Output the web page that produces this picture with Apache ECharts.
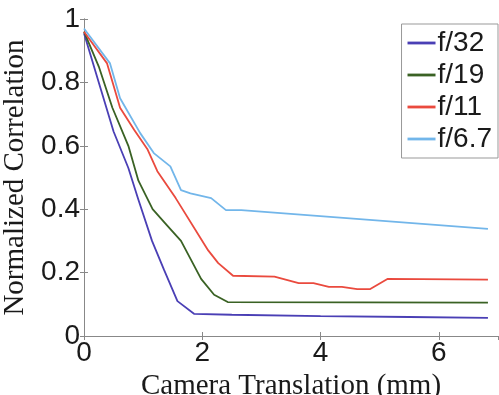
<!DOCTYPE html>
<html>
<head>
<meta charset="utf-8">
<script src="https://cdn.jsdelivr.net/npm/echarts@6/dist/echarts.min.js"></script>
<style>html,body{margin:0;padding:0;background:#fff;}#c{width:499px;height:395px;}</style>
</head>
<body>
<div id="c"></div>
<script>
const seriesNames = ['f/32', 'f/19', 'f/11', 'f/6.7'];
const f32X = [0, 0.25, 0.5, 0.75, 0.92, 1.15, 1.35, 1.58, 1.86, 2.5, 4, 5.5, 6.83];
const f32Y = [0.955, 0.80, 0.645, 0.53, 0.43, 0.30, 0.21, 0.11, 0.07, 0.067, 0.063, 0.06, 0.057];
const f19X = [0, 0.25, 0.48, 0.75, 0.92, 1.16, 1.4, 1.64, 1.98, 2.2, 2.43, 6.83];
const f19Y = [0.96, 0.85, 0.72, 0.6, 0.49, 0.40, 0.35, 0.30, 0.18, 0.13, 0.107, 0.105];
const f11X = [0, 0.39, 0.61, 0.85, 1.07, 1.24, 1.55, 2.1, 2.27, 2.52, 3.22, 3.63, 3.88, 4.14, 4.36, 4.62, 4.84, 5.13, 6.83];
const f11Y = [0.96, 0.86, 0.72, 0.65, 0.59, 0.52, 0.435, 0.27, 0.23, 0.19, 0.187, 0.167, 0.167, 0.155, 0.155, 0.148, 0.148, 0.18, 0.178];
const f67X = [0, 0.44, 0.61, 0.95, 1.18, 1.46, 1.64, 1.8, 2.15, 2.4, 2.66, 6.83];
const f67Y = [0.97, 0.86, 0.75, 0.64, 0.577, 0.535, 0.46, 0.45, 0.435, 0.397, 0.397, 0.338];
const xTicks = [0, 2, 4, 6];
const yTicks = [0, 0.2, 0.4, 0.6, 0.8, 1];

const colors = ['#4a3fb5', '#3a6224', '#ea4a3e', '#72b6ea'];
const xs = [f32X, f19X, f11X, f67X];
const ys = [f32Y, f19Y, f11Y, f67Y];

const chart = echarts.init(document.getElementById('c'), null, {renderer: 'canvas'});
const tickFont = {fontFamily: 'Liberation Sans', fontSize: 28, color: '#1a1a1a'};
const frameLine = {show: true, lineStyle: {color: '#888', width: 1}};
chart.setOption({
  animation: false,
  backgroundColor: '#fff',
  color: colors,
  grid: {left: 84, right: 1, top: 19, bottom: 59, containLabel: false, outerBoundsMode: 'none'},
  legend: {
    orient: 'vertical', right: 1, top: 24,
    backgroundColor: '#fff', borderColor: '#999', borderWidth: 1,
    padding: [5, 6, 5, 6], itemGap: 4, itemWidth: 28, itemHeight: 14,
    textStyle: {fontFamily: 'Liberation Sans', fontSize: 28, color: '#1a1a1a', padding: [0, 0, 0, -3]},
    icon: 'path://M0,0 L10,0 L10,1 L0,1 Z',
    data: seriesNames
  },
  xAxis: [{
    type: 'value', min: 0, max: 7, interval: 2,
    axisLine: frameLine, axisTick: {show: true, inside: true, length: 4, lineStyle: {color: '#888'}},
    axisLabel: Object.assign({margin: 3, showMaxLabel: false,
      formatter: v => xTicks.includes(v) ? String(v) : ''}, tickFont),
    splitLine: {show: false},
    name: 'Camera Translation (mm)', nameLocation: 'middle', nameGap: 30,
    nameTextStyle: {fontFamily: 'Liberation Serif', fontSize: 29, color: '#1a1a1a'}
  }, {
    type: 'value', position: 'top', min: 0, max: 7, interval: 2,
    axisLine: frameLine, axisTick: {show: true, inside: true, length: 4, lineStyle: {color: '#888'}},
    axisLabel: {show: false}, splitLine: {show: false}
  }],
  yAxis: [{
    type: 'value', min: 0, max: 1, interval: 0.2,
    axisLine: frameLine, axisTick: {show: true, inside: true, length: 4, lineStyle: {color: '#888'}},
    axisLabel: Object.assign({margin: 4, formatter: v => {
      const t = yTicks.find(k => Math.abs(k - v) < 1e-9); return t === undefined ? '' : String(t);}}, tickFont),
    splitLine: {show: false},
    name: 'Normalized Correlation', nameLocation: 'middle', nameGap: 46,
    nameTextStyle: {fontFamily: 'Liberation Serif', fontSize: 29, color: '#1a1a1a'}
  }, {
    type: 'value', position: 'right', min: 0, max: 1, interval: 0.2,
    axisLine: frameLine, axisTick: {show: true, inside: true, length: 4, lineStyle: {color: '#888'}},
    axisLabel: {show: false}, splitLine: {show: false}
  }],
  series: seriesNames.map((n, i) => ({
    name: n, type: 'line', showSymbol: false, symbol: 'none',
    lineStyle: {width: 1.8, color: colors[i]},
    itemStyle: {color: colors[i]},
    data: xs[i].map((x, j) => [x, ys[i][j]])
  }))
});
</script>
</body>
</html>
